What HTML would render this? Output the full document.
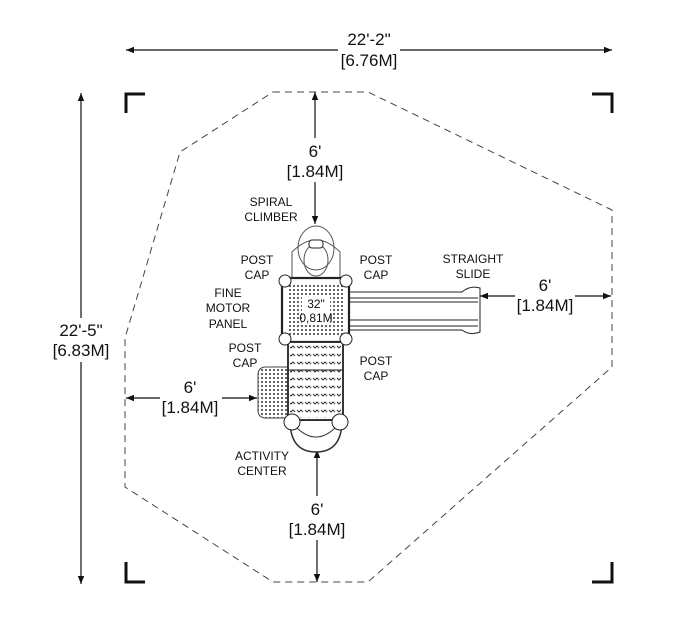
<!DOCTYPE html>
<html><head><meta charset="utf-8"><style>
html,body{margin:0;padding:0;background:#fff;}
svg{display:block;}
text{font-family:"Liberation Sans",sans-serif;fill:#111;}
.d{font-size:17px;text-anchor:middle;}
.l{font-size:12px;text-anchor:middle;}
</style></head><body>
<svg width="700" height="620" viewBox="0 0 700 620" xmlns="http://www.w3.org/2000/svg">
<defs>
<marker id="a" viewBox="0 0 10 10" refX="10" refY="5" markerWidth="12" markerHeight="8" orient="auto-start-reverse" markerUnits="userSpaceOnUse"><path d="M0,1 L10,5 L0,9 Z" fill="#111"/></marker>
<pattern id="dia" width="8" height="8" patternUnits="userSpaceOnUse"><path d="M1,2 l2,2 l2,-2 l2,2" fill="none" stroke="#333" stroke-width="1"/></pattern>
<pattern id="dot" width="4" height="4" patternUnits="userSpaceOnUse"><circle cx="2" cy="2" r="1.1" fill="#555"/></pattern>
</defs>
<polygon points="273,92 368,92 612,210 612,367 368,582 273,582 125,487 125,338 180,152" fill="none" stroke="#444" stroke-width="1" stroke-dasharray="7,5"/>
<g fill="none" stroke="#111" stroke-width="3">
<path d="M126,113 V94 H145"/><path d="M592,94 H612 V113"/>
<path d="M126,562 V582 H145"/><path d="M592,582 H612 V562"/>
</g>
<g stroke="#111" stroke-width="1.2" fill="none">
<line x1="126" y1="50" x2="338" y2="50" marker-start="url(#a)"/>
<line x1="400" y1="50" x2="612" y2="50" marker-end="url(#a)"/>
<line x1="81" y1="93" x2="81" y2="318" marker-start="url(#a)"/>
<line x1="81" y1="362" x2="81" y2="584" marker-end="url(#a)"/>
<line x1="315" y1="92" x2="315" y2="138" marker-start="url(#a)"/>
<line x1="315" y1="182" x2="315" y2="224" marker-end="url(#a)"/>
<line x1="317" y1="450" x2="317" y2="496" marker-start="url(#a)"/>
<line x1="317" y1="540" x2="317" y2="582" marker-end="url(#a)"/>
<line x1="126" y1="398" x2="160" y2="398" marker-start="url(#a)"/>
<line x1="222" y1="398" x2="257" y2="398" marker-end="url(#a)"/>
<line x1="480" y1="296" x2="515" y2="296" marker-start="url(#a)"/>
<line x1="575" y1="296" x2="611" y2="296" marker-end="url(#a)"/>
</g>
<text class="d" x="369" y="45">22'-2"</text><text class="d" x="369" y="66">[6.76M]</text>
<text class="d" x="81" y="336">22'-5"</text><text class="d" x="81" y="356">[6.83M]</text>
<text class="d" x="315" y="157">6'</text><text class="d" x="315" y="177">[1.84M]</text>
<text class="d" x="317" y="515">6'</text><text class="d" x="317" y="535">[1.84M]</text>
<text class="d" x="190" y="393">6'</text><text class="d" x="190" y="413">[1.84M]</text>
<text class="d" x="545" y="291">6'</text><text class="d" x="545" y="311">[1.84M]</text>
<g stroke="#222" fill="#fff" stroke-width="1">
<ellipse cx="316" cy="248" rx="18" ry="22" fill="none" stroke="#555"/>
<ellipse cx="316" cy="260" rx="12" ry="16" fill="none" stroke="#555"/>
<path d="M292,278 V252 Q316,228 340,252 V278" fill="none" stroke="#555"/>
<rect x="309" y="240" width="14" height="8" rx="3"/>
<path d="M349,292 H462 Q470,285 480,288 V332 Q470,336 462,330 H349 Z"/>
<line x1="349" y1="298" x2="478" y2="298"/><line x1="349" y1="302" x2="478" y2="302"/>
<line x1="349" y1="320" x2="478" y2="320"/><line x1="349" y1="326" x2="478" y2="326"/>
<path d="M288,367 H266 Q258,367 258,375 V410 Q258,418 266,418 H288 Z" fill="url(#dot)" stroke="#444"/>
<path d="M290,420 Q290,452 316,452 Q342,452 342,420 Z" fill="#fff" stroke="#333" stroke-width="1.5"/>
<path d="M297,428 Q316,446 335,428" fill="none" stroke="#333"/>
<rect x="282" y="278" width="67" height="64" stroke-width="2.2"/>
<rect x="288" y="284" width="55" height="52" fill="url(#dot)" stroke="none"/>
<rect x="302" y="296" width="28" height="28" fill="#fff" stroke="none"/>
<rect x="288" y="342" width="55" height="78" stroke-width="1.8"/>
<rect x="290" y="344" width="51" height="74" fill="url(#dia)" stroke="none"/>
<line x1="288" y1="370" x2="343" y2="370"/>
<circle cx="285" cy="281" r="6"/><circle cx="346" cy="281" r="6"/>
<circle cx="285" cy="339" r="6"/><circle cx="346" cy="339" r="6"/>
<circle cx="292" cy="422" r="8"/><circle cx="340" cy="422" r="8"/>
</g>
<text x="316" y="308" style="font-size:12px;text-anchor:middle">32"</text>
<text x="316" y="322" style="font-size:12px;text-anchor:middle">0,81M</text>
<text class="l" x="271" y="206">SPIRAL</text><text class="l" x="271" y="221">CLIMBER</text>
<text class="l" x="257" y="264">POST</text><text class="l" x="257" y="279">CAP</text>
<text class="l" x="376" y="264">POST</text><text class="l" x="376" y="279">CAP</text>
<text class="l" x="228" y="297">FINE</text><text class="l" x="228" y="312">MOTOR</text><text class="l" x="228" y="328">PANEL</text>
<text class="l" x="245" y="352">POST</text><text class="l" x="245" y="367">CAP</text>
<text class="l" x="376" y="365">POST</text><text class="l" x="376" y="380">CAP</text>
<text class="l" x="473" y="263">STRAIGHT</text><text class="l" x="473" y="278">SLIDE</text>
<text class="l" x="262" y="460">ACTIVITY</text><text class="l" x="262" y="475">CENTER</text>
</svg>
</body></html>
